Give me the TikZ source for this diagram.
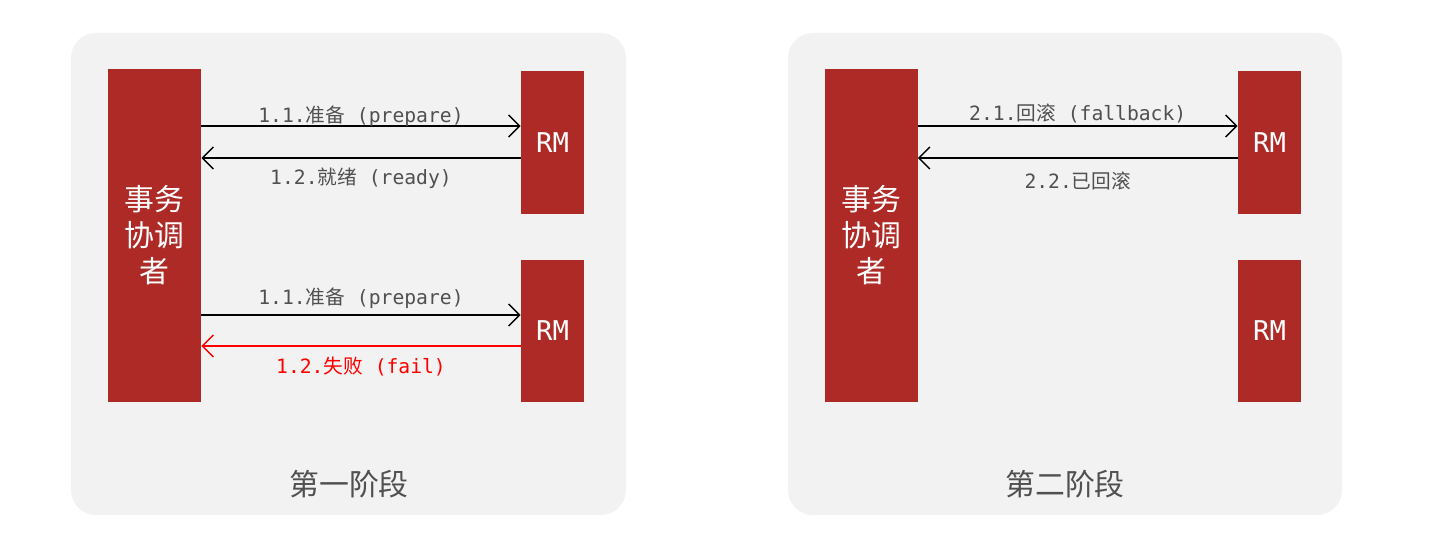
\documentclass[tikz,border=0pt]{standalone}
\usepackage{fontspec}
\setmainfont{Noto Sans CJK SC}
\setmonofont{DejaVu Sans Mono}
\newfontfamily\cjk{Noto Sans CJK SC}
\usetikzlibrary{arrows.meta}
\definecolor{boxred}{HTML}{AD2A27}
\definecolor{panelgray}{HTML}{F2F2F2}
\definecolor{textgray}{HTML}{505050}
\tikzset{
  panel/.style={fill=panelgray, draw=none, rounded corners=0.5cm},
  coord/.style={fill=boxred, draw=none, minimum width=1.86cm, minimum height=6.66cm, text=white, align=center, font=\fontsize{17}{20.5}\selectfont\cjk},
  rm/.style={fill=boxred, draw=none, minimum width=1.26cm, minimum height=2.86cm, text=white, font=\fontsize{15.5}{18}\selectfont\ttfamily},
  msg/.style={line width=0.85pt, -{Straight Barb[length=2.2mm, width=4.4mm]}},
  lbl/.style={text=textgray, font=\fontsize{11.2}{13}\selectfont\ttfamily, inner sep=1pt},
  stage/.style={text=textgray, font=\fontsize{17}{20}\selectfont\cjk}
}

\begin{document}
\begin{tikzpicture}[x=0.02cm, y=0.02cm]
  \useasboundingbox[fill=white] (0,0) rectangle (1436,544);
  % panels
  \fill[panel] (71,29) rectangle (626,511);
  \fill[panel] (788,29) rectangle (1342,511);

  % phase one
  \node[coord] (co1) at (154.5,308.5) {事务\\协调\\者};
  \node[rm] (rm1) at (552.5,401.5) {RM};
  \node[rm] (rm2) at (552.5,213) {RM};
  \draw[msg] (co1.east |- 0,418) -- (rm1.west |- 0,418)
    node[lbl, midway, above=-2pt] {1.1.{\cjk 准备} (prepare)};
  \draw[msg] (rm1.west |- 0,386) -- (co1.east |- 0,386)
    node[lbl, midway, below=4pt] {1.2.{\cjk 就绪} (ready)};
  \draw[msg] (co1.east |- 0,229) -- (rm2.west |- 0,229)
    node[lbl, midway, above=2pt] {1.1.{\cjk 准备} (prepare)};
  \draw[msg, red] (rm2.west |- 0,198) -- (co1.east |- 0,198)
    node[lbl, text=red, midway, below=5pt] {1.2.{\cjk 失败} (fail)};
  \node[stage] (st1) at (349,60) {第一阶段};

  % phase two
  \node[coord] (co2) at (871,308.5) {事务\\协调\\者};
  \node[rm] (rm3) at (1269.5,401.5) {RM};
  \node[rm] (rm4) at (1269.5,213) {RM};
  \draw[msg] (co2.east |- 0,418) -- (rm3.west |- 0,418)
    node[lbl, midway, above=0pt] {2.1.{\cjk 回滚} (fallback)};
  \draw[msg] (rm3.west |- 0,386) -- (co2.east |- 0,386)
    node[lbl, midway, below=6.5pt] {2.2.{\cjk 已回滚}};
  \node[stage] (st2) at (1065,60) {第二阶段};
\end{tikzpicture}
\end{document}
